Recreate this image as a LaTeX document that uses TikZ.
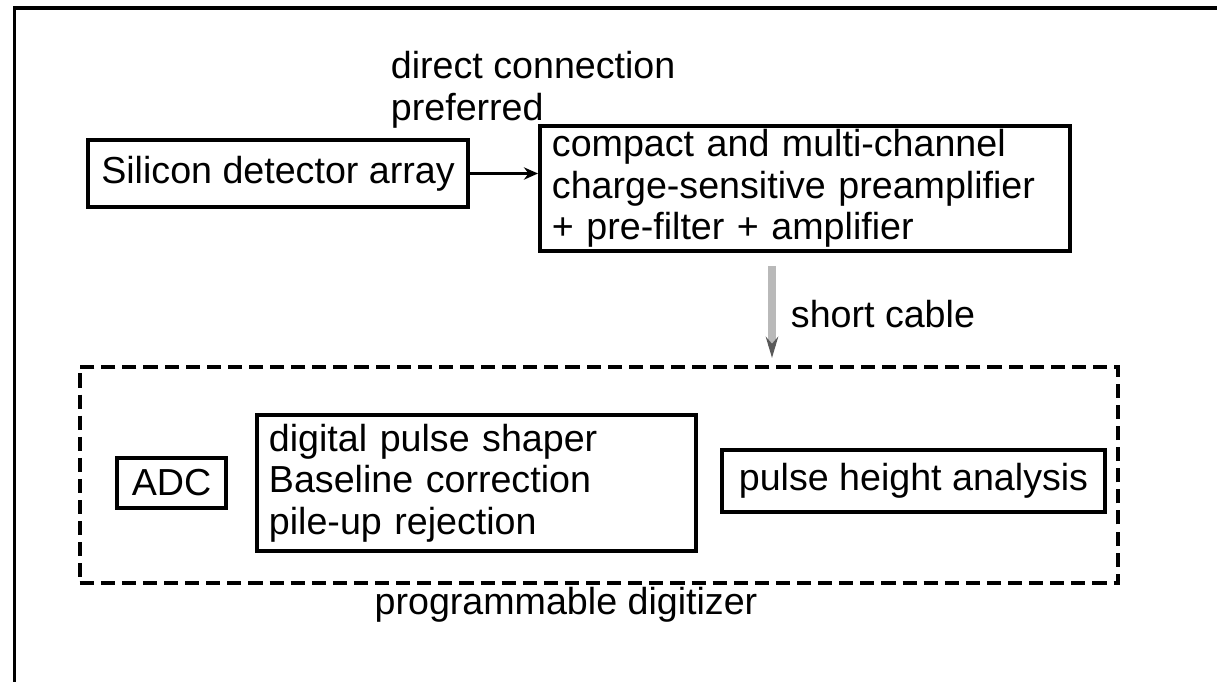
\documentclass[tikz,border=0pt]{standalone}
\usepackage{fontspec}
\setmainfont{Liberation Sans}
\usetikzlibrary{arrows.meta,positioning}

\begin{document}
\begin{tikzpicture}[x=0.01cm,y=-0.01cm,line width=1.1pt,
        every node/.style={font=\fontsize{10.7}{11.8}\selectfont},
        box/.style={draw, inner xsep=0.12cm, inner ysep=0pt}]
        \useasboundingbox (0,0) rectangle (1217,681);
        \draw (14.5,690) -- (14.5,8) -- (1230,8);
        \coordinate (cable) at (772,0);
        \node [box, minimum width=3.8cm, minimum height=0.67cm] (silicon) at (278,173.5) {Silicon detector array};
        \node [box, anchor=north west, text width=5.06cm, minimum height=1.25cm, align=left] (preamp) at (538,124)
            {compact and multi-channel\\charge-sensitive preamplifier\\+ pre-filter + amplifier};
        \node [anchor=west, inner sep=0pt, align=left] (note) at (389,90) {direct connection\\preferred};
        \node [draw, dashed, dash pattern=on 4pt off 2pt, minimum width=10.38cm, minimum height=2.16cm] (digitizer) at (599,475) {};
        \node [box, minimum width=1.09cm, minimum height=0.5cm] (adc) at (171.5,483) {ADC};
        \node [box, anchor=north west, text width=4.15cm, minimum height=1.36cm, align=left] (shaper) at (255,413)
            {digital pulse shaper\\Baseline correction\\pile-up rejection};
        \node [box, minimum width=3.83cm, minimum height=0.62cm] (pha) at (913.5,481) {pulse height analysis};
        \node [anchor=west, inner sep=0pt] (cablelabel) at (789,314) {short cable};
        \node [inner sep=0pt] (diglabel) at (566,605) {programmable digitizer};
        \draw [-{Stealth[length=4pt,width=3.5pt]}] (silicon.east) -- (silicon.east -| preamp.west);
        \draw [gray!55, line width=2pt, shorten <=3.7pt, shorten >=2pt, -{Stealth[gray!70!black,length=6pt,width=3.5pt]}]
            (preamp.south -| cable) -- (digitizer.north -| cable);
    \end{tikzpicture}
\end{document}
